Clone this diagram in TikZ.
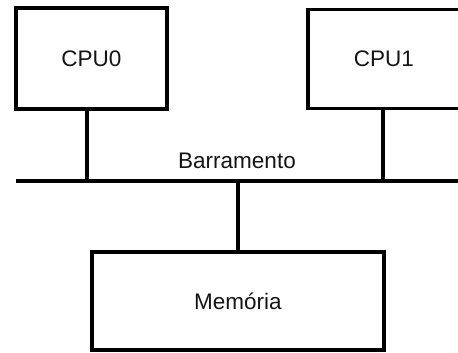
\documentclass[tikz,border=0pt]{standalone}
\usepackage{fontspec}
\setmainfont{Liberation Sans}
\begin{document}
\begin{tikzpicture}[x=1pt,y=-1pt,
  unit/.style={draw=black, line width=3.3pt, rectangle, inner sep=0pt,
    font=\fontsize{22.5}{26}\selectfont, text=black!92},
  wire/.style={draw=black, line width=3.3pt},
  lbl/.style={inner sep=0pt, font=\fontsize{22.5}{26}\selectfont, text=black!92}]
  \useasboundingbox (0,0) rectangle (458,353);
  % processors and memory
  \node[unit, minimum width=151pt, minimum height=101pt] (cpu0) at (91.5,58.5) {CPU0};
  \node[unit, minimum width=152pt, minimum height=99pt] (cpu1) at (384,59) {CPU1};
  \node[unit, minimum width=292pt, minimum height=98pt] (mem) at (238,301) {Memória};
  % shared bus
  \coordinate (busL) at (16,181);
  \coordinate (busR) at (462,181);
  \draw[wire] (busL) -- (busR);
  \node[lbl, anchor=base] (buslbl) at (237,168) {Barramento};
  % taps onto the bus
  \coordinate (tap0) at (87,181);
  \coordinate (tap1) at (383,181);
  \coordinate (tapm) at (238,181);
  \draw[wire] (tap0 |- cpu0.south) -- (tap0);
  \draw[wire] (tap1 |- cpu1.south) -- (tap1);
  \draw[wire] (tapm) -- (mem.north);
\end{tikzpicture}
\end{document}
